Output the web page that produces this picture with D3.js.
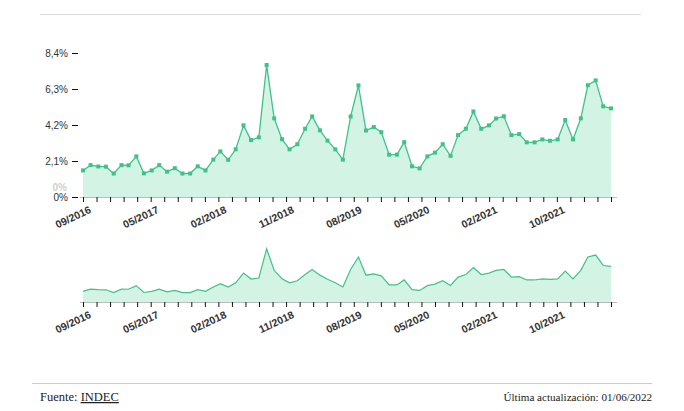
<!DOCTYPE html>
<html lang="es">
<head>
<meta charset="UTF-8">
<title>Inflación mensual</title>
<script src="https://d3js.org/d3.v7.min.js"></script>
<style>
  body { margin: 0; background: #fff; }
  .axis text { font-family: "Liberation Sans", Arial, sans-serif; fill: #333; }
  .footer { font-family: "Liberation Serif", serif; fill: #222; }
</style>
</head>
<body>
<div id="chart"></div>
<script>
// monthly values (%), starting 09/2016
var startMonth = "2016-09";
var values = [
  1.55, 1.86, 1.78, 1.77, 1.37, 1.86, 1.85, 2.37, 1.38, 1.55,
  1.86, 1.48, 1.68, 1.37, 1.37, 1.79, 1.55, 2.18, 2.66, 2.17,
  2.78, 4.18, 3.32, 3.48, 7.70, 4.59, 3.37, 2.78, 3.08, 3.98,
  4.70, 3.89, 3.29, 2.78, 2.18, 4.70, 6.51, 3.88, 4.08, 3.78,
  2.47, 2.47, 3.20, 1.79, 1.67, 2.37, 2.59, 3.08, 2.40, 3.61,
  3.98, 4.99, 3.98, 4.18, 4.58, 4.71, 3.61, 3.67, 3.19, 3.19,
  3.36, 3.28, 3.36, 4.49, 3.36, 4.59, 6.52, 6.80, 5.29, 5.17
];
var yTicks = [0, 2.1, 4.2, 6.3, 8.4];
var xLabels = ["09/2016", "05/2017", "02/2018", "11/2018", "08/2019", "05/2020", "02/2021", "10/2021"];
var xTickCount = 40;

var W = 684, H = 411;
var green = "#3fc28a", fillGreen = "#d3f3e4";

var parseMonth = d3.timeParse("%Y-%m");
var t0 = parseMonth(startMonth);
var data = values.map(function(v, i) {
  return { date: d3.timeMonth.offset(t0, i), value: v };
});

var svg = d3.select("#chart").append("svg")
  .attr("width", W)
  .attr("height", H);

// top rule
svg.append("line")
  .attr("x1", 40).attr("x2", 641)
  .attr("y1", 14.5).attr("y2", 14.5)
  .attr("stroke", "#ddd");

var x = d3.scaleTime()
  .domain(d3.extent(data, function(d) { return d.date; }))
  .range([83, 611]);

var y = d3.scaleLinear().domain([0, 8.4]).range([197, 53]);
var y2 = d3.scaleLinear().domain([0, 8.4]).range([302, 244]);

var ext = x.domain();
var tickVals = d3.range(xTickCount).map(function(i) {
  return new Date(+ext[0] + i * (ext[1] - ext[0]) / (xTickCount - 1));
});

function xAxis(g, baseY) {
  var ax = d3.axisBottom(x)
    .tickValues(tickVals)
    .tickSize(5)
    .tickSizeOuter(0)
    .tickFormat(function(d, i) { return i % 5 === 0 ? xLabels[i / 5] : ""; });
  g.attr("class", "axis")
    .attr("transform", "translate(0," + baseY + ")")
    .call(ax);
  g.select(".domain").attr("stroke", "#bbb").attr("d", "M80,0.5H617");
  g.selectAll(".tick line").attr("stroke", "#111");
  g.selectAll(".tick text")
    .style("font-size", "10.5px")
    .style("font-weight", "bold")
    .attr("text-anchor", "end")
    .attr("y", 8)
    .attr("dx", "0.1em")
    .attr("dy", "0.9em")
    .attr("transform", "rotate(-25)");
}

// main area + line
var area = d3.area()
  .x(function(d) { return x(d.date); })
  .y0(y(0))
  .y1(function(d) { return y(d.value); });
var line = d3.line()
  .x(function(d) { return x(d.date); })
  .y(function(d) { return y(d.value); });

svg.append("path").datum(data)
  .attr("d", area)
  .attr("fill", fillGreen);
svg.append("path").datum(data)
  .attr("d", line)
  .attr("fill", "none")
  .attr("stroke", green)
  .attr("stroke-width", 1.3);
svg.selectAll("rect.pt").data(data).enter().append("rect")
  .attr("class", "pt")
  .attr("x", function(d) { return x(d.date) - 2; })
  .attr("y", function(d) { return y(d.value) - 2; })
  .attr("width", 4)
  .attr("height", 4)
  .attr("fill", green);

// y axis
var yAxis = svg.append("g")
  .attr("class", "axis")
  .attr("transform", "translate(78,0)")
  .call(d3.axisLeft(y)
    .tickValues(yTicks)
    .tickSize(6)
    .tickPadding(4)
    .tickFormat(function(d) { return String(d).replace(".", ",") + "%"; }));
yAxis.select(".domain").remove();
yAxis.selectAll(".tick line").attr("stroke", "#111");
yAxis.selectAll(".tick text").style("font-size", "10px");

// faint label sitting just above the zero tick
svg.append("text")
  .attr("x", 67).attr("y", 190.5)
  .attr("text-anchor", "end")
  .style("font-family", "Liberation Sans, Arial, sans-serif")
  .style("font-size", "10px")
  .style("font-weight", "bold")
  .attr("fill", "#cfcfcf")
  .text("0%");

xAxis(svg.append("g"), 197);

// context chart
var area2 = d3.area()
  .x(function(d) { return x(d.date); })
  .y0(y2(0))
  .y1(function(d) { return y2(d.value); });
var line2 = d3.line()
  .x(function(d) { return x(d.date); })
  .y(function(d) { return y2(d.value); });
svg.append("path").datum(data)
  .attr("d", area2)
  .attr("fill", fillGreen);
svg.append("path").datum(data)
  .attr("d", line2)
  .attr("fill", "none")
  .attr("stroke", green)
  .attr("stroke-width", 1.2);

xAxis(svg.append("g"), 302);

// footer
svg.append("line")
  .attr("x1", 32).attr("x2", 652)
  .attr("y1", 383.5).attr("y2", 383.5)
  .attr("stroke", "#ccc");

var src = svg.append("text")
  .attr("class", "footer")
  .style("font-size", "12.5px")
  .attr("x", 40).attr("y", 401);
src.append("tspan").text("Fuente: ");
src.append("tspan").attr("text-decoration", "underline").text("INDEC");

svg.append("text")
  .attr("class", "footer")
  .style("font-size", "11.1px")
  .attr("x", 652).attr("y", 401)
  .attr("text-anchor", "end")
  .text("Última actualización: 01/06/2022");
</script>
</body>
</html>
